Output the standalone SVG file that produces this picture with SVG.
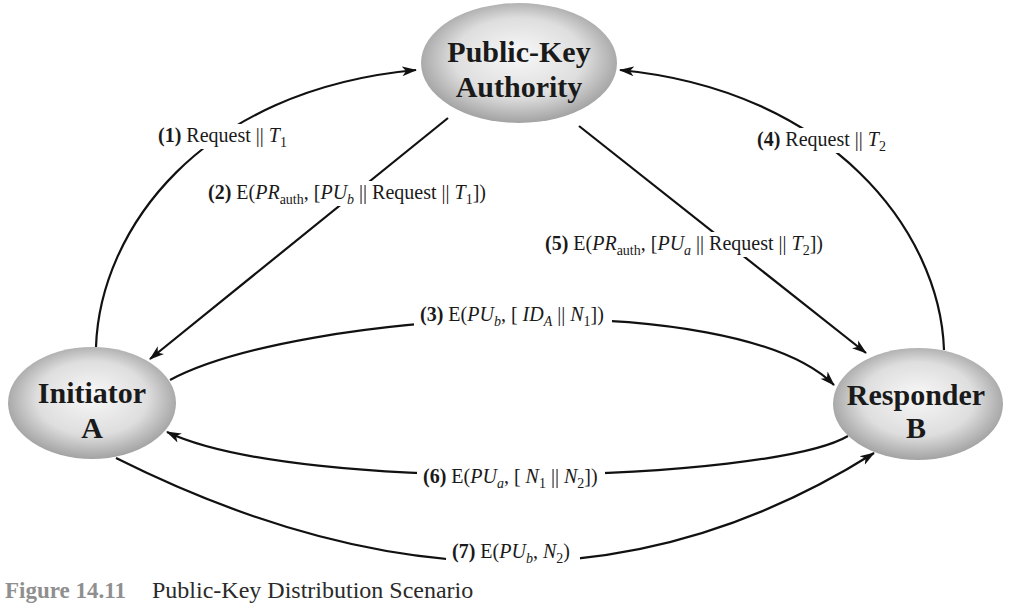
<svg xmlns="http://www.w3.org/2000/svg" width="1009" height="616" viewBox="0 0 1009 616">
<style>
.node-t{font-family:"Liberation Serif","Times New Roman",serif;font-weight:bold;font-size:30px;fill:#1a1a1a;text-anchor:middle}
.lbl{font-family:"Liberation Serif","Times New Roman",serif;font-size:20px;fill:#1a1a1a}
.b{font-weight:bold}
.i{font-style:italic}
.sub{font-size:14px}
.conn{fill:none;stroke:#111;stroke-width:2.2;marker-end:url(#ah)}
.bg{fill:#fff}
</style>
<defs>
<radialGradient id="g" cx="50%" cy="48%" r="55%" fx="50%" fy="42%">
<stop offset="0" stop-color="#f8f8f8"/>
<stop offset="0.6" stop-color="#dedede"/>
<stop offset="1" stop-color="#9a9a9a"/>
</radialGradient>
<marker id="ah" markerWidth="16" markerHeight="12" refX="14" refY="6" orient="auto" markerUnits="userSpaceOnUse">
<path d="M0,1 L15,6 L0,11 L4,6 z" fill="#111"/>
</marker>
</defs>
<rect width="1009" height="616" fill="#fff"/>

<g id="connectors">
<path id="c1" class="conn" d="M96,347 C100,230 200,90 416,70"/>
<path id="c4" class="conn" d="M944,350 C940,230 830,90 620,70"/>
<path id="c2" class="conn" d="M448,118 L150,359"/>
<path id="c5" class="conn" d="M579,126 L866,353"/>
<path id="c3" class="conn" d="M170,380 C300,311 734,285 834,385"/>
<path id="c6" class="conn" d="M848,436 C770,482 300,495 167,432"/>
<path id="c7" class="conn" d="M116,458 C390,595 640,600 874,453"/>
<rect class="bg" x="154" y="124" width="138" height="25"/>
<text class="lbl" x="158" y="142"><tspan class="b">(1)</tspan> Request || <tspan class="i">T</tspan><tspan class="sub" dy="5">1</tspan></text>
<rect class="bg" x="204" y="181" width="286" height="25"/>
<text class="lbl" x="208" y="199"><tspan class="b">(2)</tspan> E(<tspan class="i">PR</tspan><tspan class="sub" dy="5">auth</tspan><tspan dy="-5">, [</tspan><tspan class="i">PU</tspan><tspan class="sub i" dy="5">b</tspan><tspan dy="-5"> || Request || </tspan><tspan class="i">T</tspan><tspan class="sub" dy="5">1</tspan><tspan dy="-5">])</tspan></text>
<rect class="bg" x="753" y="128" width="140" height="25"/>
<text class="lbl" x="757" y="146"><tspan class="b">(4)</tspan> Request || <tspan class="i">T</tspan><tspan class="sub" dy="5">2</tspan></text>
<rect class="bg" x="541" y="232" width="288" height="25"/>
<text class="lbl" x="545" y="250"><tspan class="b">(5)</tspan> E(<tspan class="i">PR</tspan><tspan class="sub" dy="5">auth</tspan><tspan dy="-5">, [</tspan><tspan class="i">PU</tspan><tspan class="sub i" dy="5">a</tspan><tspan dy="-5"> || Request || </tspan><tspan class="i">T</tspan><tspan class="sub" dy="5">2</tspan><tspan dy="-5">])</tspan></text>
<rect class="bg" x="414" y="303" width="198" height="25"/>
<text class="lbl" x="420" y="321"><tspan class="b">(3)</tspan> E(<tspan class="i">PU</tspan><tspan class="sub i" dy="5">b</tspan><tspan dy="-5">, [ </tspan><tspan class="i">ID</tspan><tspan class="sub i" dy="5">A</tspan><tspan dy="-5"> || </tspan><tspan class="i">N</tspan><tspan class="sub" dy="5">1</tspan><tspan dy="-5">])</tspan></text>
<rect class="bg" x="417" y="465" width="188" height="25"/>
<text class="lbl" x="423" y="483"><tspan class="b">(6)</tspan> E(<tspan class="i">PU</tspan><tspan class="sub i" dy="5">a</tspan><tspan dy="-5">, [ </tspan><tspan class="i">N</tspan><tspan class="sub" dy="5">1</tspan><tspan dy="-5"> || </tspan><tspan class="i">N</tspan><tspan class="sub" dy="5">2</tspan><tspan dy="-5">])</tspan></text>
<rect class="bg" x="446" y="540" width="134" height="25"/>
<text class="lbl" x="452" y="558"><tspan class="b">(7)</tspan> E(<tspan class="i">PU</tspan><tspan class="sub i" dy="5">b</tspan><tspan dy="-5">, </tspan><tspan class="i">N</tspan><tspan class="sub" dy="5">2</tspan><tspan dy="-5">)</tspan></text>
</g>

<g id="node-pka">
<ellipse cx="519" cy="63" rx="98" ry="60" fill="url(#g)"/>
<text class="node-t" x="519" y="62">Public-Key</text>
<text class="node-t" x="519" y="97">Authority</text>
</g>
<g id="node-initiator">
<ellipse cx="92" cy="403" rx="84" ry="56" fill="url(#g)"/>
<text class="node-t" x="92" y="403">Initiator</text>
<text class="node-t" x="92" y="438">A</text>
</g>
<g id="node-responder">
<ellipse cx="918" cy="404" rx="85" ry="56" fill="url(#g)"/>
<text class="node-t" x="916" y="405">Responder</text>
<text class="node-t" x="916" y="438">B</text>
</g>

<g id="caption">
<text x="5" y="598" font-family="Liberation Serif, serif" font-weight="bold" font-size="23" fill="#8f8f8f">Figure 14.11</text>
<text x="152" y="598" font-family="Liberation Serif, serif" font-size="24" fill="#2a2a2a">Public-Key Distribution Scenario</text>
</g>
</svg>
